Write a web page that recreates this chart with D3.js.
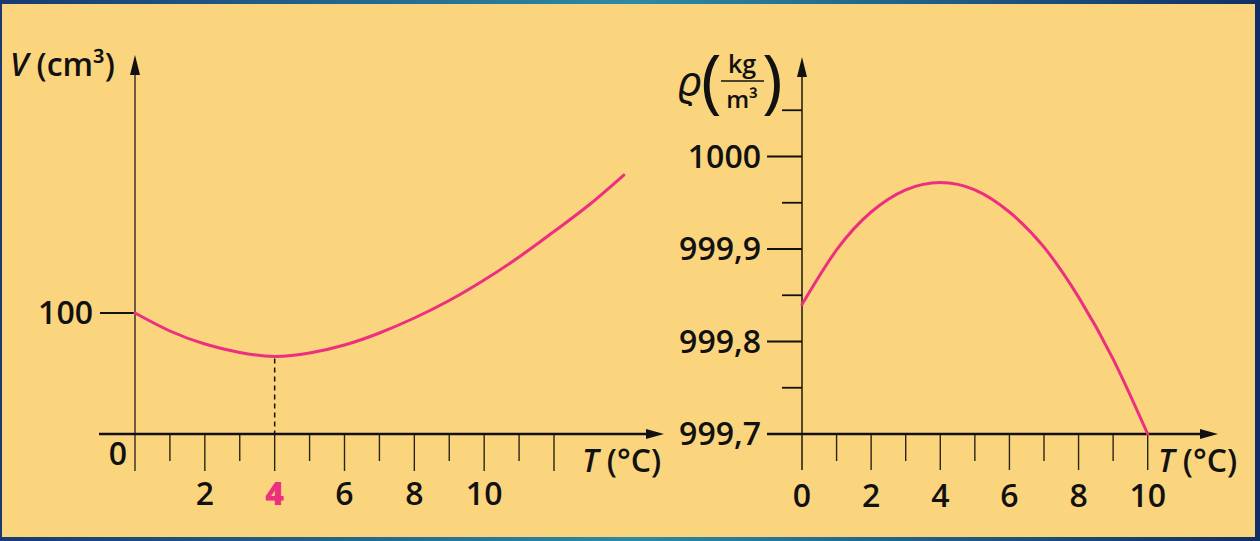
<!DOCTYPE html>
<html>
<head>
<meta charset="utf-8">
<script src="https://cdn.jsdelivr.net/npm/d3@7"></script>
<style>
  html, body { margin: 0; padding: 0; background: #1d4a7c; }
  svg { display: block; }
</style>
</head>
<body>
<svg id="chart"></svg>
<script>
// volume of water (schematic) against temperature
const vTemps = [0, 1, 2, 3, 4, 5, 6, 7, 8, 9, 10, 11, 12, 13, 14]
const vValues = [100.000, 99.99405, 99.98975, 99.98694, 99.98565, 99.98678, 99.98942, 99.99339,
  99.99835, 100.00413, 100.01091, 100.01851, 100.02694, 100.0357, 100.04562]
const vXTicks = [1, 2, 3, 4, 5, 6, 7, 8, 9, 10, 11, 12]
const vXLabels = [2, 4, 6, 8, 10]
const vYTicks = [100]
const vMinT = 4

// density of water against temperature
const rhoTemps = [0, 1, 2, 3, 4, 5, 6, 7, 8, 9, 10]
const rhoValues = [999.84, 999.899, 999.94, 999.964, 999.972, 999.964, 999.94, 999.902, 999.848, 999.781, 999.70]
const rhoXTicks = [1, 2, 3, 4, 5, 6, 7, 8, 9, 10]
const rhoXLabels = [0, 2, 4, 6, 8, 10]
const rhoYTicks = [999.7, 999.8, 999.9, 1000]
const rhoYMinor = [999.75, 999.85, 999.95, 1000.05]
const rhoYLabels = ['999,7', '999,8', '999,9', '1000']

const W = 1260, H = 541
const FONT = "'Open Sans', 'Noto Sans', sans-serif"
const BG = '#FBD57D'
const PINK = '#EC2F7E'
const INK = '#111'

const svg = d3.select('#chart').attr('width', W).attr('height', H)

// ─── frame ───
const defs = svg.append('defs')
const grad = defs.append('linearGradient').attr('id', 'frame').attr('x1', 0).attr('x2', 1)
grad.append('stop').attr('offset', '0%').attr('stop-color', '#173a72')
grad.append('stop').attr('offset', '50%').attr('stop-color', '#2e8aa2')
grad.append('stop').attr('offset', '100%').attr('stop-color', '#112f66')
svg.append('rect').attr('width', W).attr('height', H).attr('fill', 'url(#frame)')
svg.append('rect').attr('x', 2).attr('y', 4).attr('width', W - 7).attr('height', H - 8).attr('fill', BG)

function arrow(g, x, y, dir) {
  // dir: 'right' or 'up'
  const p = dir === 'right'
    ? [[x, y], [x - 18, y - 5], [x - 18, y + 5]]
    : [[x, y], [x - 5, y + 20], [x + 5, y + 20]]
  g.append('path').attr('d', 'M' + p.join('L') + 'Z').attr('fill', INK)
}

// ─── left chart: V(T) ───
const xV = d3.scaleLinear().domain([0, 12]).range([135, 554])
const yV = d3.scaleLinear().domain([99.96, 100]).range([434, 313])

const gL = svg.append('g')

// x ticks
gL.selectAll('line.xt').data(vXTicks).join('line')
  .attr('x1', d => xV(d)).attr('x2', d => xV(d))
  .attr('y1', 434).attr('y2', d => d % 2 === 0 ? 471 : 461)
  .attr('stroke', '#2a2418').attr('stroke-width', 1.4)

// y axis
gL.append('line').attr('x1', xV(0)).attr('x2', xV(0)).attr('y1', 471).attr('y2', 70)
  .attr('stroke', '#4a3f2c').attr('stroke-width', 1.6)
arrow(gL, xV(0), 55, 'up')

// y tick 100
gL.selectAll('line.yt').data(vYTicks).join('line')
  .attr('x1', 100).attr('x2', xV(0))
  .attr('y1', d => yV(d)).attr('y2', d => yV(d))
  .attr('stroke', INK).attr('stroke-width', 2)
gL.selectAll('text.yl').data(vYTicks).join('text')
  .attr('x', 93).attr('y', d => yV(d) + 11)
  .attr('text-anchor', 'end')
  .attr('font-family', FONT).attr('font-size', 32).attr('font-weight', 600).attr('fill', INK)
  .text(d => d)

// x axis
gL.append('line').attr('x1', 99).attr('x2', 650).attr('y1', 434).attr('y2', 434)
  .attr('stroke', INK).attr('stroke-width', 2.6)
arrow(gL, 664, 434, 'right')

// dashed drop line at the minimum
const vMin = vValues[vTemps.indexOf(vMinT)]
gL.append('line').attr('x1', xV(vMinT)).attr('x2', xV(vMinT))
  .attr('y1', yV(vMin) + 2).attr('y2', 434)
  .attr('stroke', INK).attr('stroke-width', 1.5).attr('stroke-dasharray', '5,4')

// curve
const lineV = d3.line().x((d, i) => xV(vTemps[i])).y(d => yV(d)).curve(d3.curveNatural)
gL.append('path').attr('d', lineV(vValues))
  .attr('fill', 'none').attr('stroke', PINK).attr('stroke-width', 3).attr('stroke-linecap', 'round')

// x labels
gL.append('text').attr('x', 118).attr('y', 465).attr('text-anchor', 'middle')
  .attr('font-family', FONT).attr('font-size', 32).attr('font-weight', 600).attr('fill', INK).text('0')
gL.selectAll('text.xl').data(vXLabels).join('text')
  .attr('x', d => xV(d)).attr('y', 505).attr('text-anchor', 'middle')
  .attr('font-family', FONT).attr('font-size', 32)
  .attr('font-weight', d => d === vMinT ? 800 : 600)
  .attr('fill', d => d === vMinT ? PINK : INK)
  .text(d => d)

// axis titles
const tV = gL.append('text').attr('x', 10).attr('y', 76)
  .attr('font-family', FONT).attr('font-size', 32).attr('font-weight', 600).attr('fill', INK)
tV.append('tspan').attr('font-style', 'italic').text('V')
tV.append('tspan').text(' (cm³)')

const tT1 = gL.append('text').attr('x', 582).attr('y', 472)
  .attr('font-family', FONT).attr('font-size', 32).attr('font-weight', 600).attr('fill', INK)
tT1.append('tspan').attr('font-style', 'italic').text('T')
tT1.append('tspan').text(' (°C)')

// ─── right chart: rho(T) ───
const xR = d3.scaleLinear().domain([0, 10]).range([802, 1147.7])
const yR = d3.scaleLinear().domain([999.7, 1000]).range([434, 156.5])

const gR = svg.append('g')

gR.selectAll('line.xt').data(rhoXTicks).join('line')
  .attr('x1', d => xR(d)).attr('x2', d => xR(d))
  .attr('y1', 434).attr('y2', d => d % 2 === 0 ? 470 : 461)
  .attr('stroke', '#2a2418').attr('stroke-width', 1.4)

gR.append('line').attr('x1', xR(0)).attr('x2', xR(0)).attr('y1', 470).attr('y2', 72)
  .attr('stroke', '#2a2418').attr('stroke-width', 1.6)
arrow(gR, xR(0), 57, 'up')

gR.selectAll('line.ym').data(rhoYTicks).join('line')
  .attr('x1', 767).attr('x2', xR(0))
  .attr('y1', d => yR(d)).attr('y2', d => yR(d))
  .attr('stroke', INK).attr('stroke-width', 1.8)
gR.selectAll('line.yn').data(rhoYMinor).join('line')
  .attr('x1', 782).attr('x2', xR(0))
  .attr('y1', d => yR(d)).attr('y2', d => yR(d))
  .attr('stroke', INK).attr('stroke-width', 1.8)
gR.selectAll('text.yl').data(rhoYTicks).join('text')
  .attr('x', 761).attr('y', d => yR(d) + 11)
  .attr('text-anchor', 'end')
  .attr('font-family', FONT).attr('font-size', 32).attr('font-weight', 600).attr('fill', INK)
  .text((d, i) => rhoYLabels[i])

gR.append('line').attr('x1', 767).attr('x2', 1204).attr('y1', 434).attr('y2', 434)
  .attr('stroke', INK).attr('stroke-width', 2.6)
arrow(gR, 1218, 434, 'right')

const lineR = d3.line().x((d, i) => xR(rhoTemps[i])).y(d => yR(d)).curve(d3.curveNatural)
gR.append('path').attr('d', lineR(rhoValues))
  .attr('fill', 'none').attr('stroke', PINK).attr('stroke-width', 3).attr('stroke-linecap', 'round')

gR.selectAll('text.xl').data(rhoXLabels).join('text')
  .attr('x', d => xR(d)).attr('y', 507).attr('text-anchor', 'middle')
  .attr('font-family', FONT).attr('font-size', 32).attr('font-weight', 600).attr('fill', INK)
  .text(d => d)

const tT2 = gR.append('text').attr('x', 1158).attr('y', 472)
  .attr('font-family', FONT).attr('font-size', 32).attr('font-weight', 600).attr('fill', INK)
tT2.append('tspan').attr('font-style', 'italic').text('T')
tT2.append('tspan').text(' (°C)')

// rho unit label: ϱ (kg / m³)
const uG = gR.append('g').attr('font-family', FONT).attr('font-weight', 600).attr('fill', INK)
uG.append('text').attr('x', 677).attr('y', 96).attr('font-size', 42).attr('font-weight', 400).attr('font-style', 'italic').text('ϱ')
uG.append('text').attr('x', 701).attr('y', 105).attr('font-size', 70).attr('font-weight', 500).text('(')
uG.append('text').attr('x', 762).attr('y', 105).attr('font-size', 70).attr('font-weight', 500).text(')')
uG.append('text').attr('x', 742).attr('y', 73).attr('text-anchor', 'middle').attr('font-size', 25).text('kg')
uG.append('line').attr('x1', 721).attr('x2', 764).attr('y1', 81).attr('y2', 81)
  .attr('stroke', INK).attr('stroke-width', 1.6)
uG.append('text').attr('x', 742).attr('y', 108).attr('text-anchor', 'middle').attr('font-size', 24).text('m³')
</script>
</body>
</html>
